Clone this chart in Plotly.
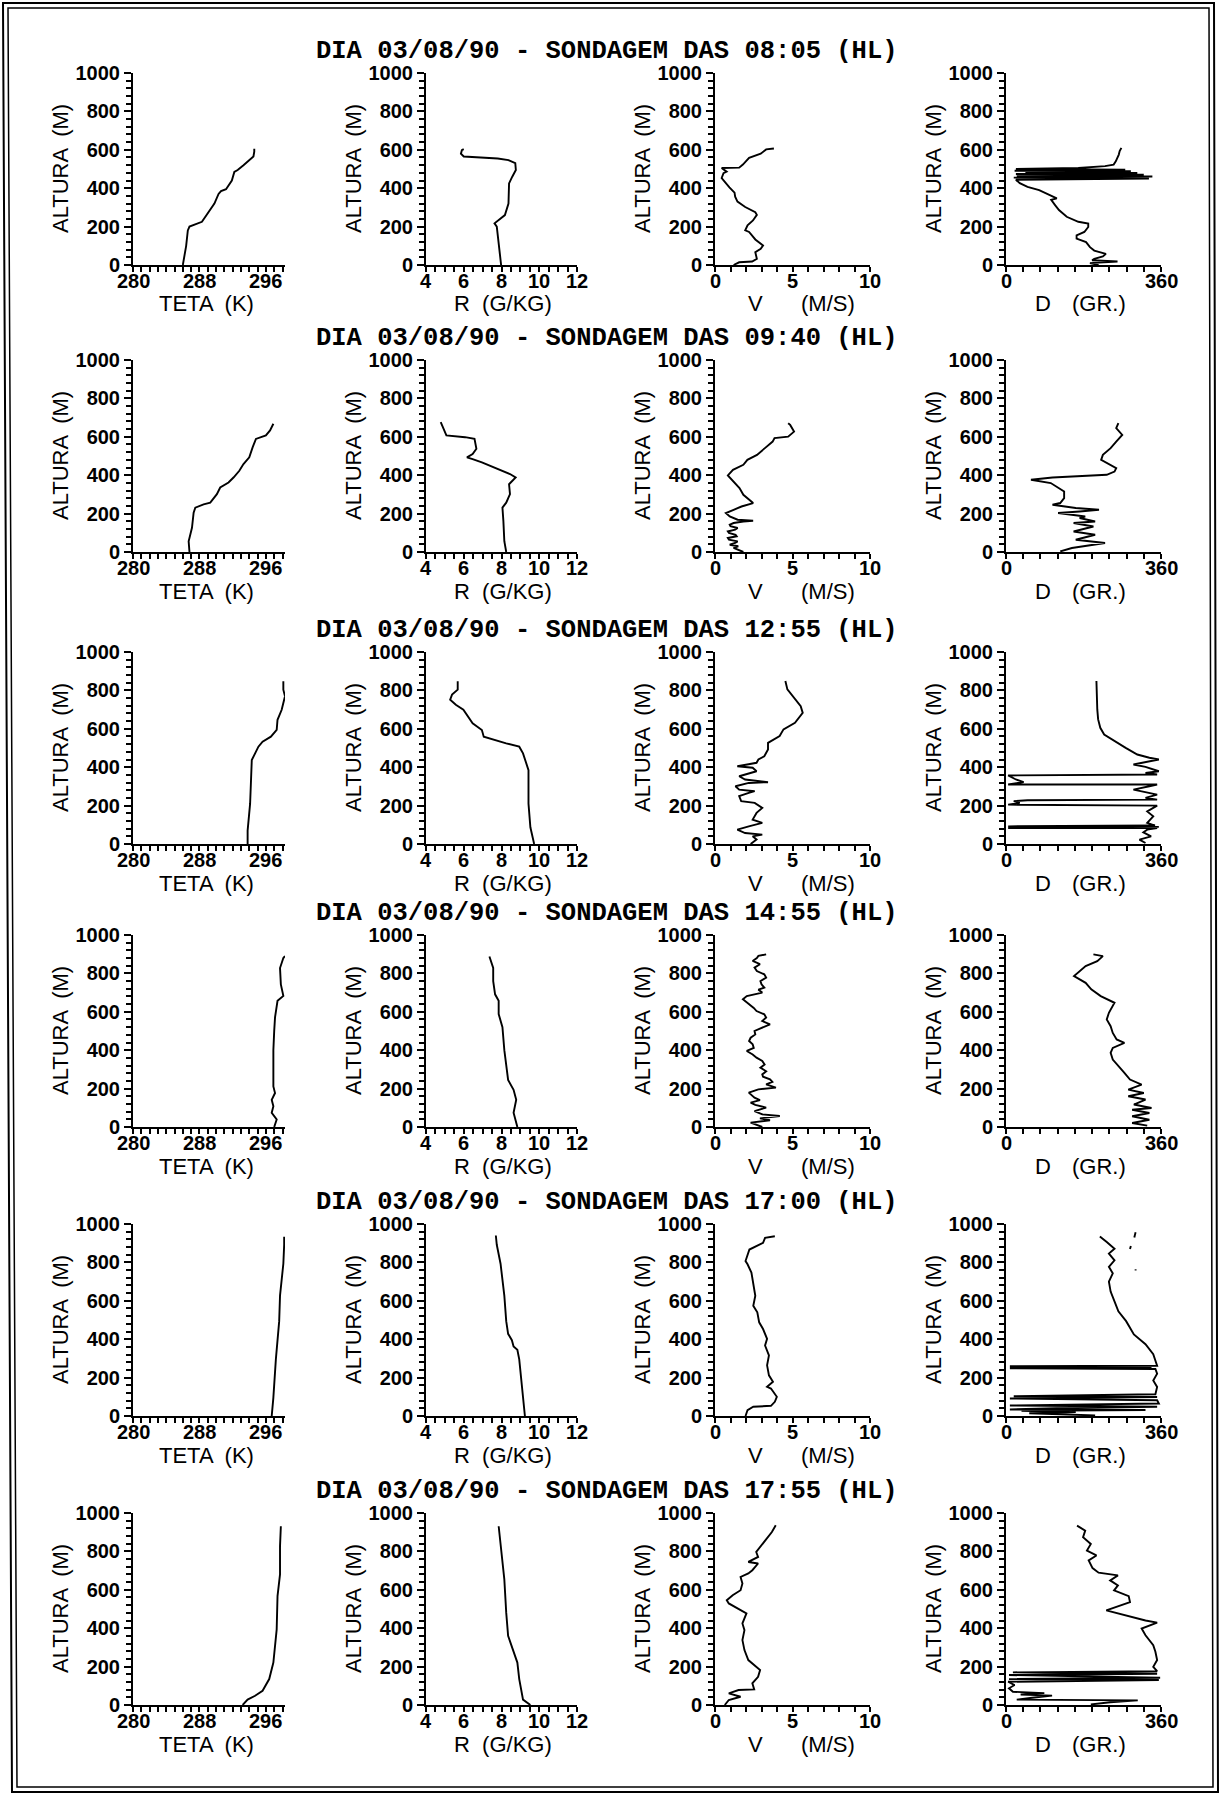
import plotly.graph_objects as go

W, H = 1220, 1795

# ---------------- soundings of 03/08/90 ----------------
horas = ["08:05", "09:40", "12:55", "14:55", "17:00", "17:55"]

# ----- 08:05 -----
h_teta_0805 = [0, 100, 180, 200, 225, 250, 290, 320, 370, 385, 395, 440, 485, 495, 520, 540, 565, 590, 605]
teta_0805 = [286.0, 286.4, 286.6, 286.8, 288.3, 288.7, 289.4, 289.8, 290.3, 290.6, 291.2, 291.9, 292.2, 292.6, 293.3, 293.8, 294.5, 294.6, 294.6]
h_r_0805 = [0, 100, 200, 217, 240, 260, 320, 425, 460, 495, 530, 546, 555, 560, 565, 580, 598, 603]
r_0805 = [7.98, 7.85, 7.75, 7.63, 7.95, 8.18, 8.37, 8.4, 8.57, 8.76, 8.73, 8.37, 7.8, 7.0, 6.0, 5.85, 5.9, 6.0]
h_v_0805 = [0, 14, 18, 32, 67, 84, 102, 119, 133, 172, 181, 207, 232, 261, 275, 302, 330, 356, 377, 404, 435, 453, 478, 486, 505, 507, 523, 558, 580, 602, 607]
v_0805 = [1.2, 1.56, 2.4, 2.7, 2.6, 2.95, 3.1, 2.8, 2.6, 2.2, 1.95, 2.1, 2.45, 2.7, 2.6, 1.95, 1.45, 1.3, 1.26, 0.93, 0.6, 0.43, 0.55, 0.75, 0.43, 1.56, 1.8, 2.2, 2.95, 3.3, 3.8]
h_d_0805 = [0, 10, 18, 25, 32, 45, 58, 75, 93, 119, 137, 154, 172, 198, 216, 225, 251, 286, 312, 339, 347, 365, 390, 407, 426, 444, 450, 455, 461, 465, 470, 474, 479, 484, 488, 491, 496, 500, 505, 515, 523, 540, 558, 575, 593, 610]
d_0805 = [215, 195, 259, 200, 205, 225, 232, 205, 195, 186, 164, 164, 182, 191, 191, 168, 141, 123, 114, 105, 118, 100, 77, 50, 32, 23, 332, 18, 340, 25, 320, 23, 305, 45, 290, 20, 277, 23, 168, 230, 250, 255, 259, 262, 264, 268]

# ----- 09:40 -----
h_teta_0940 = [0, 56, 126, 205, 231, 248, 257, 301, 336, 362, 388, 423, 458, 493, 545, 589, 607, 633, 668]
teta_0940 = [286.8, 286.7, 287.1, 287.3, 287.5, 288.5, 289.3, 290.1, 290.5, 291.5, 292.1, 292.8, 293.3, 294.0, 294.4, 294.8, 296.0, 296.5, 296.9]
h_r_0940 = [0, 56, 161, 231, 257, 301, 353, 388, 406, 441, 467, 484, 493, 510, 538, 589, 598, 607, 633, 677]
r_0940 = [8.25, 8.15, 8.1, 8.05, 8.25, 8.45, 8.4, 8.75, 8.45, 7.65, 6.96, 6.47, 6.17, 6.47, 6.67, 6.57, 6.07, 5.08, 4.98, 4.78]
h_v_0940 = [0, 12, 21, 30, 38, 47, 55, 64, 73, 82, 90, 99, 107, 116, 125, 134, 142, 151, 159, 163, 168, 185, 203, 220, 237, 255, 281, 298, 333, 367, 399, 428, 454, 480, 506, 541, 575, 593, 601, 627, 662, 671]
v_0940 = [1.83, 1.4, 1.2, 1.5, 0.95, 1.3, 1.46, 0.9, 0.83, 1.4, 1.33, 0.9, 0.83, 1.3, 1.46, 1.0, 0.95, 1.2, 1.83, 2.46, 1.46, 0.95, 0.7, 1.2, 1.71, 2.46, 2.09, 1.83, 1.58, 1.2, 0.83, 1.16, 1.83, 2.09, 2.71, 3.22, 3.72, 3.84, 4.72, 5.1, 4.85, 4.72]
h_d_0940 = [3, 21, 47, 64, 90, 107, 133, 151, 159, 177, 185, 203, 211, 220, 229, 246, 255, 281, 315, 341, 359, 376, 385, 388, 402, 419, 437, 454, 480, 506, 541, 575, 610, 645, 671]
d_0940 = [126, 153, 230, 162, 207, 157, 203, 157, 207, 171, 184, 121, 171, 216, 162, 108, 126, 135, 135, 117, 104, 58, 99, 108, 234, 252, 256, 243, 221, 225, 243, 256, 270, 256, 261]

# ----- 12:55 -----
h_teta_1255 = [0, 70, 210, 350, 437, 472, 507, 533, 559, 594, 647, 699, 769, 804, 848]
teta_1255 = [293.8, 293.8, 294.1, 294.2, 294.3, 294.7, 295.1, 295.6, 296.6, 297.3, 297.4, 297.9, 298.3, 298.1, 298.1]
h_r_1255 = [0, 87, 210, 385, 472, 507, 524, 542, 559, 594, 629, 699, 725, 752, 778, 804, 848]
r_1255 = [9.73, 9.53, 9.43, 9.43, 9.14, 8.94, 8.25, 7.65, 7.06, 6.96, 6.47, 5.98, 5.58, 5.28, 5.38, 5.68, 5.68]
h_v_1255 = [0, 23, 40, 49, 57, 75, 92, 110, 127, 162, 188, 214, 223, 249, 266, 275, 283, 301, 318, 322, 336, 353, 379, 397, 405, 423, 440, 457, 492, 527, 562, 597, 631, 683, 718, 753, 805, 849]
v_1255 = [2.3, 2.68, 2.43, 3.05, 1.94, 1.44, 2.18, 3.05, 2.43, 2.68, 3.05, 2.56, 1.69, 1.56, 2.18, 2.56, 1.56, 1.32, 2.18, 3.42, 1.94, 1.56, 2.68, 2.43, 1.44, 2.68, 2.8, 3.18, 3.42, 3.42, 4.17, 4.42, 5.16, 5.66, 5.53, 5.16, 4.67, 4.54]
h_d_1255 = [5, 23, 40, 61, 75, 83, 83, 89, 92, 96, 110, 144, 170, 200, 205, 214, 223, 228, 231, 240, 257, 283, 301, 310, 310, 322, 336, 357, 362, 370, 379, 402, 414, 431, 440, 449, 466, 501, 536, 570, 605, 649, 701, 788, 849]
d_1255 = [324, 310, 337, 319, 328, 351, 5, 355, 5, 346, 328, 342, 328, 351, 5, 32, 18, 50, 351, 324, 351, 296, 333, 351, 5, 41, 23, 5, 351, 324, 355, 324, 296, 333, 355, 333, 305, 278, 251, 228, 219, 214, 212, 210, 210]

# ----- 14:55 -----
h_teta_1455 = [0, 39, 74, 108, 142, 177, 211, 300, 400, 500, 571, 657, 683, 743, 828, 880, 890]
teta_1455 = [297.0, 297.3, 296.7, 296.9, 296.7, 297.1, 296.9, 296.9, 296.9, 297.0, 297.1, 297.4, 298.1, 297.8, 297.7, 298.1, 298.3]
h_r_1455 = [0, 39, 74, 142, 194, 245, 314, 400, 520, 588, 657, 691, 760, 828, 888]
r_1455 = [8.84, 8.74, 8.64, 8.78, 8.64, 8.35, 8.25, 8.15, 8.05, 7.85, 7.85, 7.66, 7.56, 7.56, 7.36]
h_v_1455 = [0, 12, 23, 35, 45, 57, 66, 83, 101, 115, 127, 140, 153, 179, 187, 196, 205, 222, 235, 248, 262, 274, 290, 309, 325, 344, 361, 378, 396, 412, 431, 448, 465, 482, 500, 535, 552, 570, 587, 604, 620, 639, 665, 682, 700, 715, 726, 743, 760, 778, 795, 812, 830, 848, 865, 880, 891, 899]
v_1455 = [3.05, 2.6, 2.3, 3.55, 2.9, 4.18, 3.05, 2.55, 3.3, 2.6, 2.3, 2.9, 2.55, 2.18, 2.43, 2.8, 3.93, 3.3, 3.7, 3.55, 3.1, 3.05, 3.3, 2.93, 3.2, 3.05, 2.68, 2.43, 2.05, 2.5, 2.43, 2.2, 2.3, 2.6, 2.55, 3.55, 3.05, 3.3, 3.18, 2.68, 2.5, 2.18, 1.8, 2.05, 3.05, 2.8, 3.18, 3.0, 2.93, 3.3, 3.18, 2.7, 2.55, 2.9, 2.43, 2.7, 2.8, 3.3]
h_d_1455 = [7, 21, 38, 56, 73, 90, 99, 117, 143, 160, 177, 195, 221, 247, 282, 317, 351, 386, 412, 438, 456, 490, 525, 560, 595, 647, 682, 717, 751, 786, 812, 838, 864, 890, 899]
d_1455 = [328, 293, 333, 293, 333, 293, 338, 297, 324, 284, 320, 284, 315, 288, 275, 261, 248, 243, 248, 275, 257, 248, 243, 234, 239, 252, 220, 198, 185, 158, 171, 185, 212, 225, 203]

# ----- 17:00 -----
h_teta_1700 = [0, 96, 295, 494, 627, 793, 892, 934]
teta_1700 = [296.7, 296.9, 297.2, 297.6, 297.7, 298.1, 298.2, 298.2]
h_r_1700 = [0, 96, 295, 345, 362, 395, 428, 494, 627, 793, 892, 940]
r_1700 = [9.24, 9.14, 8.94, 8.84, 8.64, 8.55, 8.35, 8.25, 8.15, 7.95, 7.75, 7.7]
h_v_1700 = [0, 31, 48, 53, 74, 100, 143, 152, 178, 212, 264, 316, 367, 402, 453, 488, 540, 574, 626, 695, 747, 790, 807, 867, 884, 902, 928, 936]
v_1700 = [1.97, 2.1, 2.47, 3.61, 3.86, 3.99, 3.61, 3.36, 3.74, 3.48, 3.36, 3.48, 3.23, 3.36, 3.1, 2.85, 2.73, 2.47, 2.6, 2.47, 2.35, 2.1, 1.97, 2.22, 2.6, 3.1, 3.23, 3.86]
h_d_1700 = [3, 14, 21, 27, 31, 34, 41, 48, 55, 65, 82, 91, 99, 103, 113, 151, 185, 220, 245, 249, 254, 259, 262, 288, 322, 374, 425, 494, 545, 597, 648, 700, 743, 777, 811, 846, 871, 906, 926, 935]
d_1700 = [207, 54, 162, 36, 324, 9, 117, 351, 9, 355, 351, 9, 351, 18, 347, 351, 342, 351, 347, 9, 338, 9, 351, 347, 342, 324, 297, 279, 261, 252, 243, 239, 248, 239, 252, 239, 252, 234, 221, 218]
h_d_1700_topo = [957, 930, None, 885, 870, None, 764, 758]
d_1700_topo = [301, 298, None, 290, 288, None, 301, 301]

# ----- 17:55 -----
h_teta_1755 = [0, 28, 48, 74, 135, 221, 394, 567, 680, 827, 931]
teta_1755 = [293.2, 293.8, 294.7, 295.6, 296.4, 296.9, 297.3, 297.4, 297.7, 297.7, 297.8]
h_r_1755 = [0, 28, 135, 221, 360, 481, 654, 827, 931]
r_1755 = [9.53, 9.14, 8.94, 8.84, 8.35, 8.25, 8.15, 7.95, 7.85]
h_v_1755 = [0, 26, 43, 61, 78, 81, 113, 147, 182, 208, 234, 286, 338, 390, 425, 477, 494, 503, 529, 546, 572, 598, 633, 667, 685, 702, 737, 745, 771, 797, 823, 849, 875, 901, 936]
v_1755 = [0.63, 0.89, 1.65, 0.89, 1.52, 2.53, 2.41, 2.78, 2.91, 2.53, 2.15, 1.9, 1.77, 1.9, 1.77, 2.03, 1.65, 1.39, 0.89, 0.76, 1.14, 1.65, 1.77, 1.65, 2.15, 2.41, 2.78, 2.15, 2.78, 2.66, 2.91, 3.16, 3.42, 3.67, 3.92]
h_d_1755 = [3, 14, 24, 28, 38, 49, 55, 62, 69, 87, 104, 121, 130, 135, 142, 149, 156, 163, 170, 176, 199, 234, 277, 311, 363, 398, 429, 440, 467, 493, 536, 567, 597, 623, 649, 675, 689, 713, 753, 779, 804, 839, 874, 908, 934]
d_1755 = [197, 242, 306, 25, 61, 107, 34, 89, 16, 7, 20, 5, 355, 7, 358, 161, 7, 351, 16, 351, 342, 351, 347, 342, 324, 315, 351, 324, 278, 233, 288, 285, 251, 260, 242, 260, 215, 201, 192, 210, 188, 197, 179, 184, 165]

# ---------------- axes ----------------
x_ranges = [[280, 298.3], [4, 12], [0, 10], [0, 360]]
x_tick0 = [280, 4, 0, 0]
x_dtick = [8, 2, 5, 360]
x_minor = [1, 0.5, 1, 40]
x_labels = [[280, 288, 296], [4, 6, 8, 10, 12], [0, 5, 10], [0, 360]]

# ---------------- panel geometry (pixels) ----------------
col_left = [133, 426, 715, 1006]
col_right = [285, 577, 870, 1161]
row_top = [73, 360, 652, 935, 1224, 1513]
panel_h = 192

series = [
    [(teta_0805, h_teta_0805), (r_0805, h_r_0805), (v_0805, h_v_0805), (d_0805, h_d_0805)],
    [(teta_0940, h_teta_0940), (r_0940, h_r_0940), (v_0940, h_v_0940), (d_0940, h_d_0940)],
    [(teta_1255, h_teta_1255), (r_1255, h_r_1255), (v_1255, h_v_1255), (d_1255, h_d_1255)],
    [(teta_1455, h_teta_1455), (r_1455, h_r_1455), (v_1455, h_v_1455), (d_1455, h_d_1455)],
    [(teta_1700, h_teta_1700), (r_1700, h_r_1700), (v_1700, h_v_1700), (d_1700, h_d_1700)],
    [(teta_1755, h_teta_1755), (r_1755, h_r_1755), (v_1755, h_v_1755), (d_1755, h_d_1755)],
]


def px(x):
    return x / W


def py(y):
    return 1 - y / H


TICK_FONT = dict(family="Liberation Sans, Arial, sans-serif", size=20, color="black", weight="bold")
LABEL_FONT = dict(family="Liberation Sans, Arial, sans-serif", size=22, color="black")
TITLE_FONT = dict(family="Liberation Mono, Courier New, monospace", size=25.5, color="black", weight="bold")

fig = go.Figure()
layout = dict(
    width=W, height=H,
    margin=dict(l=0, r=0, t=0, b=0),
    paper_bgcolor="white", plot_bgcolor="white",
    showlegend=False,
)
annotations = []

for r in range(6):
    top = row_top[r]
    bot = top + panel_h
    for c in range(4):
        n = r * 4 + c + 1
        xs = "" if n == 1 else str(n)
        xa, ya = "x" + xs, "y" + xs
        xv, hv = series[r][c]
        fig.add_trace(go.Scatter(x=xv, y=hv, mode="lines", xaxis=xa, yaxis=ya,
                                 line=dict(color="black", width=1.9), cliponaxis=True,
                                 hoverinfo="skip"))
        if r == 4 and c == 3:
            fig.add_trace(go.Scatter(x=d_1700_topo, y=h_d_1700_topo, mode="lines",
                                     xaxis=xa, yaxis=ya, connectgaps=False,
                                     line=dict(color="black", width=1.9), hoverinfo="skip"))
        layout["xaxis" + xs] = dict(
            domain=[px(col_left[c]), px(col_right[c])], anchor=ya, automargin=False,
            range=x_ranges[c], tickmode="linear", tick0=x_tick0[c], dtick=x_dtick[c],
            ticks="outside", ticklen=5, tickwidth=2, tickcolor="black",
            showticklabels=False,
            showline=True, linewidth=2, linecolor="black",
            showgrid=False, zeroline=False,
            minor=dict(tickmode="linear", tick0=x_tick0[c], dtick=x_minor[c], ticks="outside",
                       ticklen=5, tickwidth=1.5, tickcolor="black", showgrid=False),
        )
        layout["yaxis" + xs] = dict(
            domain=[py(bot), py(top)], anchor=xa, automargin=False,
            range=[0, 1000], tickmode="linear", tick0=0, dtick=200,
            ticks="outside", ticklen=7, tickwidth=2, tickcolor="black",
            showline=True, linewidth=2, linecolor="black",
            showgrid=False, zeroline=False, tickfont=TICK_FONT,
            minor=dict(tickmode="linear", tick0=0, dtick=40, ticks="outside",
                       ticklen=5, tickwidth=1.5, tickcolor="black", showgrid=False),
        )
        # horizontal tick labels, tucked close under the axis line
        for val in x_labels[c]:
            annotations.append(dict(text=str(val), x=val, xref=xa, y=py(bot + 16), yref="paper",
                                    showarrow=False, xanchor="center", yanchor="middle",
                                    font=TICK_FONT))
        # vertical axis title
        annotations.append(dict(text="ALTURA  (M)", x=px(col_left[c] - 73), y=py((top + bot) / 2),
                                xref="paper", yref="paper", showarrow=False, textangle=-90,
                                xanchor="center", yanchor="middle", font=LABEL_FONT))
    # horizontal axis titles
    ylab = py(bot + 39)
    for text, xc in [("TETA  (K)", 206), ("R  (G/KG)", 503), ("V", 755), ("(M/S)", 828),
                     ("D", 1043), ("(GR.)", 1099)]:
        annotations.append(dict(text=text, x=px(xc), y=ylab, xref="paper", yref="paper",
                                showarrow=False, xanchor="center", yanchor="middle",
                                font=LABEL_FONT))
    # row heading
    annotations.append(dict(text="DIA 03/08/90 - SONDAGEM DAS %s (HL)" % horas[r],
                            x=px(607), y=py(top - 22), xref="paper", yref="paper",
                            showarrow=False, xanchor="center", yanchor="middle",
                            font=TITLE_FONT))

layout["annotations"] = annotations


def frame(x0t, x1t, x1b, x0b, yt, yb):
    return "M %f,%f L %f,%f L %f,%f L %f,%f Z" % (px(x0t), py(yt), px(x1t), py(yt),
                                                 px(x1b), py(yb), px(x0b), py(yb))


layout["shapes"] = [
    dict(type="path", xref="paper", yref="paper", path=frame(3, 1214, 1218, 12, 3, 1792),
         line=dict(color="black", width=2)),
    dict(type="path", xref="paper", yref="paper", path=frame(8, 1209, 1213, 17, 8, 1787),
         line=dict(color="black", width=1.5)),
]

fig.update_layout(**layout)
fig.write_html("out.html")
